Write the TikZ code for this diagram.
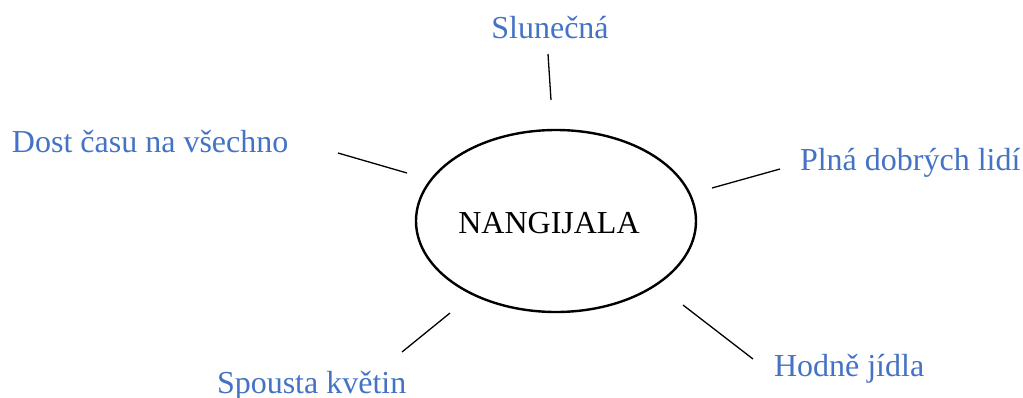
\documentclass[tikz,border=0pt]{standalone}
\usepackage{fontspec}
\setmainfont{Liberation Serif}
\usetikzlibrary{shapes.geometric}
\definecolor{lblblue}{HTML}{4472C4}
\begin{document}
\begin{tikzpicture}[x=1pt,y=-1pt,
  lbl/.style={inner sep=0pt,outer sep=0pt,text=lblblue,font=\fontsize{32}{38}\selectfont},
  conn/.style={draw=black,line width=1.3pt},
  bubble/.style={ellipse,draw=black,line width=2.4pt,minimum width=280pt,minimum height=182pt,inner sep=0pt}]
\useasboundingbox (0,0) rectangle (1023,397);
\node[bubble] (ell) at (556,221) {};
\node[inner sep=0pt,anchor=base,font=\fontsize{32}{38}\selectfont] (nang) at (549,233) {NANGIJALA};
\node[lbl,anchor=base] (slun) at (550,38) {Slunečná};
\node[lbl,anchor=base west] (dost) at (12,152) {Dost času na všechno};
\node[lbl,anchor=base west] (plna) at (800,170) {Plná dobrých lidí};
\node[lbl,anchor=base west] (hodne) at (774,376) {Hodně jídla};
\node[lbl,anchor=base west] (spousta) at (217,393) {Spousta květin};
\coordinate (s1) at (548,54); \coordinate (s2) at (551,100);
\coordinate (d1) at (338,153); \coordinate (d2) at (407,173);
\coordinate (p1) at (780,169); \coordinate (p2) at (712,188);
\coordinate (h1) at (753,359); \coordinate (h2) at (683,305);
\coordinate (k1) at (402,352); \coordinate (k2) at (450,313);
\draw[conn] (s1) -- (s2);
\draw[conn] (d1) -- (d2);
\draw[conn] (p1) -- (p2);
\draw[conn] (h1) -- (h2);
\draw[conn] (k1) -- (k2);
\end{tikzpicture}
\end{document}
